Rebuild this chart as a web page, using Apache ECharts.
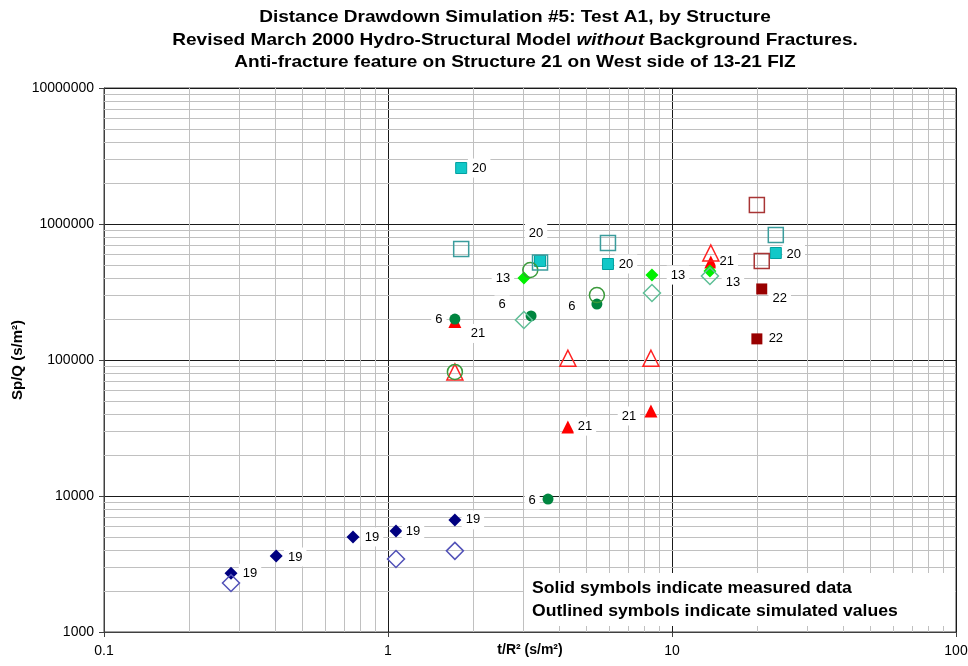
<!DOCTYPE html>
<html>
<head>
<meta charset="utf-8">
<script src="https://cdn.jsdelivr.net/npm/echarts@6/dist/echarts.min.js"></script>
<style>
  html, body { margin: 0; padding: 0; background: #fff; }
  #chart { width: 968px; height: 666px; }
</style>
</head>
<body>
<div id="chart"></div>
<script>
// t/R^2 (s/m^2) and Sp/Q (s/m^2) pairs, one pair of arrays per structure:
// "Measured" = solid symbols, "Simulated" = outlined symbols.
const s19Measured  = [[0.28, 2700], [0.404, 3620], [0.753, 5000], [1.067, 5530], [1.72, 6670]];
const s19Simulated = [[0.28, 2290], [1.067, 3440], [1.72, 3950]];

const s6Measured  = [[1.72, 200000], [3.19, 211000], [5.44, 258000], [3.66, 9500]];
const s6Simulated = [[1.72, 81700], [3.17, 459000], [5.44, 300000]];

const s13Measured  = [[3.01, 401000], [8.5, 421000], [13.6, 451000]];
const s13Simulated = [[3.01, 197000], [8.5, 311000], [13.6, 415000]];

const s20Measured  = [[1.81, 2580000], [3.43, 535000], [5.95, 508000], [23.2, 612000]];
const s20Simulated = [[1.81, 655000], [3.43, 520000], [5.95, 725000], [23.2, 830000]];

const s21Measured  = [[1.72, 192000], [4.30, 32100], [8.43, 42200], [13.7, 526000]];
const s21Simulated = [[1.72, 81700], [4.30, 103000], [8.43, 103000], [13.7, 612000]];

const s22Measured  = [[20.7, 333000], [19.9, 143000]];
const s22Simulated = [[19.9, 1380000], [20.7, 535000]];

// Axis ranges and the 2..9 minor grid values of each decade
const xRange = [0.1, 100];
const yRange = [1000, 10000000];
const xMinorGrid = [0.2, 0.3, 0.4, 0.5, 0.6, 0.7, 0.8, 0.9,
                    2, 3, 4, 5, 6, 7, 8, 9,
                    20, 30, 40, 50, 60, 70, 80, 90];
const yMinorGrid = [2000, 3000, 4000, 5000, 6000, 7000, 8000, 9000,
                    20000, 30000, 40000, 50000, 60000, 70000, 80000, 90000,
                    200000, 300000, 400000, 500000, 600000, 700000, 800000, 900000,
                    2000000, 3000000, 4000000, 5000000, 6000000, 7000000, 8000000, 9000000];

// Label offsets (px from the symbol centre) for each measured point
const labelOffsets = {
  '19': [[19, 0], [19, 1], [19, 0], [17, 0], [18, 0]],
  '6':  [[-16, 0], [-29, -11], [-25, 2], [-16, 1]],
  '13': [[-21, 0], [26, 0], [23, 11]],
  '20': [[18, 0], [-4, -28], [18, 0], [18, 1]],
  '21': [[23, 12], [17, -1], [-22, 5], [16, -1]],
  '22': [[18, 9], [19, 0]]
};

const FONT = '"Liberation Sans", Arial, sans-serif';
const fmtNum = v => String(parseFloat(Number(v).toPrecision(6)));

function measured(id, data, symbol, size, color, border) {
  return {
    name: id,
    type: 'scatter',
    z: 3,
    symbol: symbol,
    symbolSize: size,
    itemStyle: { color: color, borderColor: border || color, borderWidth: border ? 1 : 0, opacity: 1 },
    data: data.map((p, i) => ({
      value: p,
      label: {
        show: true,
        position: 'inside',
        offset: labelOffsets[id][i],
        formatter: id,
        color: '#000',
        fontFamily: FONT,
        fontSize: 13,
        backgroundColor: '#fff',
        padding: [3, 4]
      }
    }))
  };
}

function simulated(id, data, symbol, size, color) {
  return {
    name: id + ' simulated',
    type: 'scatter',
    z: 4,
    symbol: symbol,
    symbolSize: size,
    itemStyle: { color: 'transparent', borderColor: color, borderWidth: 1.5, opacity: 1 },
    data: data
  };
}

const gridLineStyle = { color: '#c0c0c0', width: 1, type: 'solid' };

const option = {
  animation: false,
  backgroundColor: '#fff',
  grid: {
    left: 104, right: 12, top: 88, bottom: 34,
    containLabel: false, outerBoundsMode: 'none',
    show: true, borderColor: '#404040', borderWidth: 1, backgroundColor: '#fff'
  },
  xAxis: {
    type: 'log', logBase: 10, min: xRange[0], max: xRange[1],
    name: 't/R² (s/m²)', nameLocation: 'middle', nameGap: 11, nameMoveOverlap: false,
    nameTextStyle: { fontFamily: FONT, fontWeight: 'bold', fontSize: 14, color: '#000' },
    axisLine: { lineStyle: { color: '#404040', width: 1 } },
    axisTick: { show: true, length: 5, lineStyle: { color: '#404040' } },
    axisLabel: { color: '#000', fontFamily: FONT, fontSize: 14, margin: 12, formatter: fmtNum },
    splitLine: { show: true, lineStyle: { color: '#1a1a1a', width: 1 } }
  },
  yAxis: {
    type: 'log', logBase: 10, min: yRange[0], max: yRange[1],
    name: 'Sp/Q (s/m²)', nameLocation: 'middle', nameGap: 79, nameRotate: 90, nameMoveOverlap: false,
    nameTextStyle: { fontFamily: FONT, fontWeight: 'bold', fontSize: 15, color: '#000' },
    axisLine: { lineStyle: { color: '#404040', width: 1 } },
    axisTick: { show: true, length: 5, lineStyle: { color: '#404040' } },
    axisLabel: { color: '#000', fontFamily: FONT, fontSize: 14, margin: 10, formatter: fmtNum },
    splitLine: { show: true, lineStyle: { color: '#1a1a1a', width: 1 } }
  },
  series: [
    {
      name: 'minor grid',
      type: 'scatter',
      z: 1,
      data: [],
      markLine: {
        z: 1,
        silent: true,
        symbol: ['none', 'none'],
        label: { show: false },
        lineStyle: gridLineStyle,
        animation: false,
        data: xMinorGrid.map(v => ({ xAxis: v })).concat(yMinorGrid.map(v => ({ yAxis: v })))
      }
    },
    measured('19', s19Measured, 'diamond', 13, '#000080'),
    simulated('19', s19Simulated, 'diamond', 17, '#5252b8'),
    measured('21', s21Measured, 'triangle', 13, '#ff0000'),
    simulated('21', s21Simulated, 'triangle', 16, '#ff2020'),
    measured('6', s6Measured, 'circle', 11, '#00853f'),
    simulated('6', s6Simulated, 'circle', 15, '#3b9a3b'),
    measured('13', s13Measured, 'diamond', 13, '#00f000'),
    simulated('13', s13Simulated, 'diamond', 17, '#5fbf97'),
    measured('20', s20Measured, 'rect', 11, '#11c8c8', '#00a0a0'),
    simulated('20', s20Simulated, 'rect', 15, '#3a9c9c'),
    measured('22', s22Measured, 'rect', 11, '#990000'),
    simulated('22', s22Simulated, 'rect', 15, '#a83535')
  ],
  graphic: [
    {
      type: 'text', x: 515, y: 17, z: 10, scaleX: 1.12,
      style: {
        text: 'Distance Drawdown Simulation #5: Test A1, by Structure',
        align: 'center', verticalAlign: 'middle',
        font: 'bold 17px ' + FONT, fill: '#000'
      }
    },
    {
      type: 'text', x: 515, y: 40, z: 10, scaleX: 1.12,
      style: {
        text: 'Revised March 2000 Hydro-Structural Model {i|without} Background Fractures.',
        align: 'center', verticalAlign: 'middle',
        font: 'bold 17px ' + FONT, fill: '#000',
        rich: { i: { fontStyle: 'italic', fontWeight: 'bold', fontSize: 17, fontFamily: 'Liberation Sans' } }
      }
    },
    {
      type: 'text', x: 515, y: 62, z: 10, scaleX: 1.12,
      style: {
        text: 'Anti-fracture feature on Structure 21 on West side of 13-21 FIZ',
        align: 'center', verticalAlign: 'middle',
        font: 'bold 17px ' + FONT, fill: '#000'
      }
    },
    {
      type: 'rect', z: 20,
      shape: { x: 524, y: 573, width: 431, height: 53 },
      style: { fill: '#fff' }
    },
    {
      type: 'text', x: 532, y: 589, z: 21, scaleX: 1.1,
      style: {
        text: 'Solid symbols indicate measured data',
        verticalAlign: 'middle',
        font: 'bold 16px ' + FONT, fill: '#000'
      }
    },
    {
      type: 'text', x: 532, y: 612, z: 21, scaleX: 1.1,
      style: {
        text: 'Outlined symbols indicate simulated values',
        verticalAlign: 'middle',
        font: 'bold 16px ' + FONT, fill: '#000'
      }
    }
  ]
};

const chart = echarts.init(document.getElementById('chart'), null, { renderer: 'canvas' });
chart.setOption(option);
</script>
</body>
</html>
